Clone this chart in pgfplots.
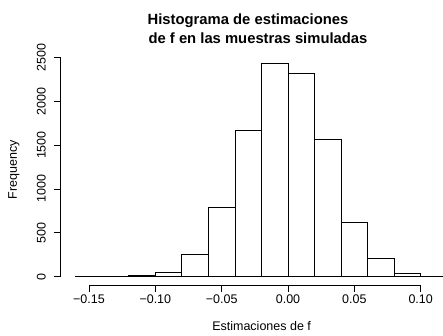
\documentclass[border=0pt]{standalone}
\usepackage{pgfplots}
\pgfplotsset{compat=1.18}
\usepackage{fontspec}
\setmainfont{Liberation Sans}

\begin{document}
\begin{tikzpicture}[x=1pt,y=1pt]
\begin{axis}[
  at={(0,0)}, anchor=south west,
  scale only axis, width=382.3pt, height=230pt,
  xmin=-0.1713, xmax=0.1168, ymin=-96.9, ymax=2524,
  axis line style={draw=none},
  tick align=outside, major tick length=6.5pt,
  xtick pos=bottom, ytick pos=left,
  x tick label as interval=false,
  xtick={-0.15,-0.1,-0.05,0,0.05,0.1},
  xticklabels={−0.15,−0.10,−0.05,0.00,0.05,0.10},
  ytick={0,500,1000,1500,2000,2500},
  yticklabels={0,500,1000,1500,2000,2500},
  yticklabel style={rotate=90, anchor=south},
  yticklabel shift=5pt,
  tick style={black, line width=0.75pt},
  ticklabel style={font=\fontsize{12.5}{15}\selectfont},
  clip=true,
]
\addplot[ybar interval, fill=white, draw=black, line width=0.75pt] coordinates {
(-0.16,2) (-0.14,3) (-0.12,10) (-0.10,50) (-0.08,250) (-0.06,791) (-0.04,1662)
(-0.02,2427) (0.00,2318) (0.02,1570) (0.04,623) (0.06,212) (0.08,40) (0.10,8) (0.12,8)
};
\coordinate (xa) at (axis cs:-0.15,-96.9);
\coordinate (xb) at (axis cs:0.10,-96.9);
\coordinate (ya) at (axis cs:-0.1713,0);
\coordinate (yb) at (axis cs:-0.1713,2500);
\end{axis}
\draw[line width=0.75pt] (xa)--(xb);
\draw[line width=0.75pt] (ya)--(yb);
\node[anchor=base, font=\bfseries\fontsize{14.8}{18}\selectfont, inner sep=0pt] at (187.3,260.9) {Histograma de estimaciones};
\node[anchor=base, font=\bfseries\fontsize{14.8}{18}\selectfont, inner sep=0pt] at (197.3,241.9) {de f en las muestras simuladas};
\node[anchor=base, font=\fontsize{12.5}{15}\selectfont, inner sep=0pt] at (200.9,-44.8) {Estimaciones de f};
\node[anchor=base, rotate=90, font=\fontsize{12.5}{15}\selectfont, inner sep=0pt] at (-43.7,115.2) {Frequency};
\pgfresetboundingbox
\path (-60.7,-49.8) rectangle (382.3,285.2);
\end{tikzpicture}
\end{document}
